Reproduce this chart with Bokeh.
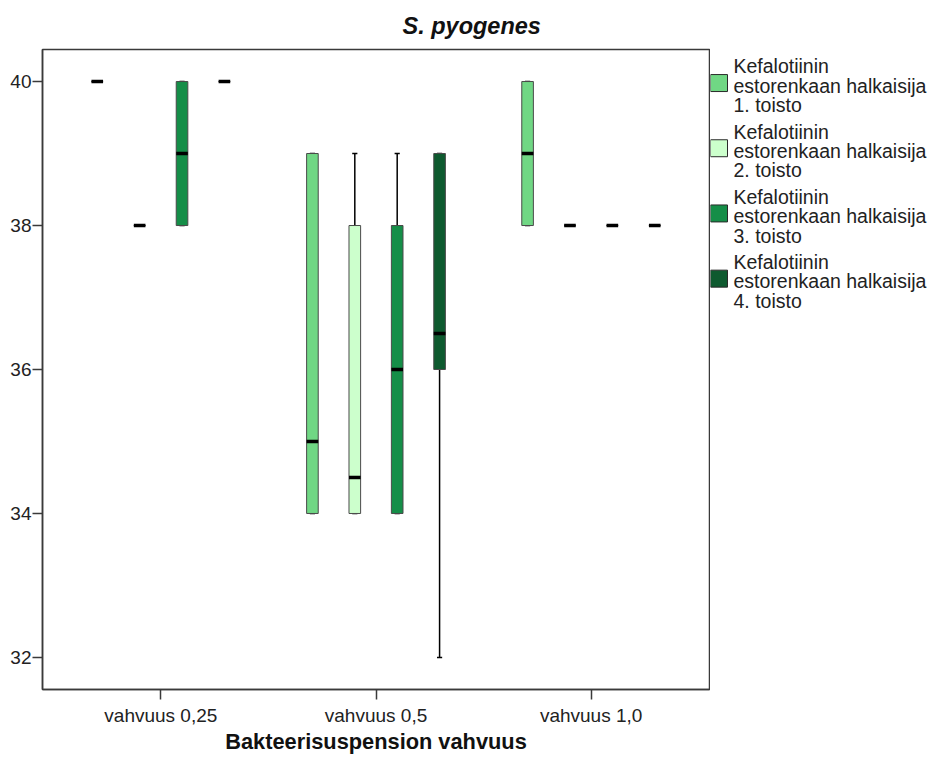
from bokeh.plotting import figure
from bokeh.layouts import row
from bokeh.models import FactorRange, Range1d, ColumnDataSource, FixedTicker
from bokeh.core.properties import value
from bokeh.transform import dodge
from bokeh.embed import file_html
from bokeh.resources import INLINE

# Suspension strengths on the x axis
categories = ["vahvuus 0,25", "vahvuus 0,5", "vahvuus 1,0"]

# Legend texts, one per replicate
series_labels = [
    "Kefalotiinin\nestorenkaan halkaisija\n1. toisto",
    "Kefalotiinin\nestorenkaan halkaisija\n2. toisto",
    "Kefalotiinin\nestorenkaan halkaisija\n3. toisto",
    "Kefalotiinin\nestorenkaan halkaisija\n4. toisto",
]

# Five-number summaries (mm) per replicate, one value per category
rep1_low = [40, 34, 38]
rep1_q1 = [40, 34, 38]
rep1_median = [40, 35, 39]
rep1_q3 = [40, 39, 40]
rep1_high = [40, 39, 40]

rep2_low = [38, 34, 38]
rep2_q1 = [38, 34, 38]
rep2_median = [38, 34.5, 38]
rep2_q3 = [38, 38, 38]
rep2_high = [38, 39, 38]

rep3_low = [38, 34, 38]
rep3_q1 = [38, 34, 38]
rep3_median = [39, 36, 38]
rep3_q3 = [40, 38, 38]
rep3_high = [40, 39, 38]

rep4_low = [40, 32, 38]
rep4_q1 = [40, 36, 38]
rep4_median = [40, 36.5, 38]
rep4_q3 = [40, 39, 38]
rep4_high = [40, 39, 38]

y_ticks = [32, 34, 36, 38, 40]

replicates = [
    (rep1_low, rep1_q1, rep1_median, rep1_q3, rep1_high),
    (rep2_low, rep2_q1, rep2_median, rep2_q3, rep2_high),
    (rep3_low, rep3_q1, rep3_median, rep3_q3, rep3_high),
    (rep4_low, rep4_q1, rep4_median, rep4_q3, rep4_high),
]

fill_colors = ["#70d784", "#ccffcc", "#158e48", "#0e5a2f"]
FONT = "Liberation Sans"
TEXT_COLOR = "#222222"
BOX_W = 0.054
CAP_W = 0.024
STEP = 0.197
BORDER_TOP, BORDER_BOTTOM, HEIGHT = 48, 74, 763

# ---- main box plot -------------------------------------------------------
p = figure(width=710, height=HEIGHT,
           x_range=FactorRange(*categories, range_padding=0.1 / 3),
           y_range=Range1d(31.555, 40.445),
           output_backend="svg", toolbar_location=None,
           min_border_left=42, min_border_right=1,
           min_border_top=BORDER_TOP, min_border_bottom=BORDER_BOTTOM)

p.title.text = "S. pyogenes"
p.title.text_font = FONT
p.title.text_font_style = "bold italic"
p.title.text_font_size = "23.5px"
p.title.text_color = "#111111"
p.title.align = "left"
p.title.offset = 360
p.title.standoff = 21

p.xgrid.visible = False
p.ygrid.visible = False
p.outline_line_color = "#3a3a3a"
p.outline_line_width = 1.5

for i, (low, q1, med, q3, high) in enumerate(replicates):
    src = ColumnDataSource(dict(cat=categories, low=low, q1=q1, med=med,
                                q3=q3, high=high))
    off = (i - 1.5) * STEP
    # whiskers
    p.segment(x0=dodge("cat", off, range=p.x_range), y0="q3",
              x1=dodge("cat", off, range=p.x_range), y1="high",
              source=src, line_color="black", line_width=1.5)
    p.segment(x0=dodge("cat", off, range=p.x_range), y0="low",
              x1=dodge("cat", off, range=p.x_range), y1="q1",
              source=src, line_color="black", line_width=1.5)
    # whisker caps
    for col in ("low", "high"):
        p.segment(x0=dodge("cat", off - CAP_W / 2, range=p.x_range), y0=col,
                  x1=dodge("cat", off + CAP_W / 2, range=p.x_range), y1=col,
                  source=src, line_color="black", line_width=1.5)
    # interquartile box
    p.vbar(x=dodge("cat", off, range=p.x_range), top="q3", bottom="q1",
           width=BOX_W, source=src, fill_color=fill_colors[i],
           line_color="#4a4a4a", line_width=1)
    # median
    p.segment(x0=dodge("cat", off - BOX_W / 2, range=p.x_range), y0="med",
              x1=dodge("cat", off + BOX_W / 2, range=p.x_range), y1="med",
              source=src, line_color="black", line_width=3.5)

for ax in (p.xaxis[0], p.yaxis[0]):
    ax.axis_line_color = "#3a3a3a"
    ax.axis_line_width = 1.5
    ax.major_tick_line_color = "#3a3a3a"
    ax.major_tick_line_width = 1.5
    ax.major_tick_in = 0
    ax.major_tick_out = 10
    ax.minor_tick_line_color = None
    ax.major_label_text_font = FONT
    ax.major_label_text_font_size = "19px"
    ax.major_label_text_color = TEXT_COLOR

p.yaxis[0].ticker = FixedTicker(ticks=y_ticks)
p.yaxis[0].major_label_standoff = 1
p.xaxis[0].major_label_standoff = 5
p.xaxis[0].axis_label = "Bakteerisuspension vahvuus"
p.xaxis[0].axis_label_text_font = FONT
p.xaxis[0].axis_label_text_font_style = "bold"
p.xaxis[0].axis_label_text_font_size = "21.8px"
p.xaxis[0].axis_label_text_color = "#111111"
p.xaxis[0].axis_label_standoff = 0

# ---- legend panel: frame aligned with the main plot, y in page pixels ----
LEG_W = 221
ENTRY_STEP = 65.3
LINE_STEP = 19.4
FIRST_LINE_MID = 65.0

leg = figure(width=LEG_W, height=HEIGHT, x_range=Range1d(0, LEG_W),
             y_range=Range1d(HEIGHT - BORDER_BOTTOM, BORDER_TOP),
             output_backend="svg", toolbar_location=None,
             min_border_left=0, min_border_right=0,
             min_border_top=BORDER_TOP, min_border_bottom=BORDER_BOTTOM,
             x_axis_location=None, y_axis_location=None)
leg.xgrid.visible = False
leg.ygrid.visible = False
leg.outline_line_color = None

sq_x, sq_y, txt_x, txt_y, txt = [], [], [], [], []
for i, label in enumerate(series_labels):
    first = FIRST_LINE_MID + i * ENTRY_STEP
    sq_x.append(8.5)
    sq_y.append(first + 16.6)
    for j, line in enumerate(label.split("\n")):
        txt_x.append(23)
        txt_y.append(first + j * LINE_STEP)
        txt.append(line)

leg.rect(x=sq_x, y=sq_y, width=17, height=17, fill_color=fill_colors,
         line_color="#2a2a2a", line_width=1)
leg.text(x=txt_x, y=txt_y, text=txt, text_font=value(FONT),
         text_font_size="19.5px", text_color=TEXT_COLOR,
         text_baseline="middle", text_align="left")

layout = row(p, leg, spacing=0)
open("out.html", "w").write(file_html(layout, INLINE))
